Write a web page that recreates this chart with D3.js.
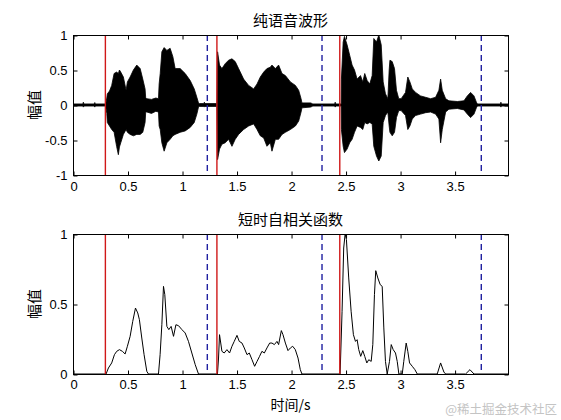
<!DOCTYPE html>
<html>
<head>
<meta charset="utf-8">
<script src="https://cdn.jsdelivr.net/npm/d3@7/dist/d3.min.js"></script>
<style>
  html, body { margin: 0; padding: 0; background: #fff; }
  svg { display: block; }
</style>
</head>
<body>
<script>
// ---------------- data ----------------
const titleTop = "纯语音波形";
const titleBottom = "短时自相关函数";
const yLabel = "幅值";
const xLabel = "时间/s";
const watermark = "@稀土掘金技术社区";

const xTicks = [0, 0.5, 1, 1.5, 2, 2.5, 3, 3.5];
const xTickLabels = ["0", "0.5", "1", "1.5", "2", "2.5", "3", "3.5"];
const yTicksTop = [-1, -0.5, 0, 0.5, 1];
const yTickLabelsTop = ["-1", "-0.5", "0", "0.5", "1"];
const yTicksBottom = [0, 0.5, 1];
const yTickLabelsBottom = ["0", "0.5", "1"];

// speech start (red) and end (blue dashed) markers, seconds
const startMarks = [0.297, 1.32, 2.447];
const endMarks = [1.232, 2.284, 3.745];

// waveform envelope: time, upper, lower
const waveT = [0.000,0.090,0.095,0.100,0.195,0.200,0.205,0.300,0.310,0.315,0.335,0.355,0.377,0.400,0.416,0.426,0.438,0.462,0.487,0.499,0.524,0.554,0.585,0.616,0.640,0.661,0.667,0.677,0.720,0.760,0.784,0.790,0.800,0.815,0.836,0.861,0.891,0.916,0.937,0.983,1.029,1.075,1.112,1.136,1.151,1.160,1.200,1.205,1.210,1.320,1.326,1.344,1.366,1.396,1.427,1.458,1.488,1.519,1.565,1.611,1.657,1.688,1.718,1.749,1.779,1.810,1.825,1.856,1.886,1.917,1.948,1.994,2.040,2.070,2.092,2.100,2.180,2.200,2.400,2.405,2.410,2.460,2.462,2.478,2.490,2.514,2.538,2.560,2.582,2.606,2.637,2.658,2.676,2.698,2.722,2.744,2.759,2.784,2.805,2.827,2.845,2.866,2.888,2.900,2.907,2.928,2.949,2.967,2.988,3.010,3.050,3.071,3.090,3.112,3.142,3.188,3.234,3.280,3.326,3.356,3.372,3.387,3.418,3.448,3.525,3.586,3.617,3.647,3.678,3.700,3.710,3.920,3.925,3.930,3.990];
const waveHi = [0.015,0.015,0.04,0.015,0.015,0.035,0.015,0.015,0.10,0.16,0.20,0.28,0.45,0.47,0.45,0.50,0.47,0.40,0.21,0.33,0.40,0.50,0.57,0.52,0.37,0.23,0.10,0.09,0.08,0.10,0.09,0.30,0.45,0.76,0.82,0.78,0.81,0.69,0.52,0.52,0.45,0.35,0.23,0.11,0.03,0.02,0.02,0.04,0.02,0.02,0.76,0.57,0.52,0.59,0.64,0.66,0.62,0.52,0.37,0.28,0.23,0.30,0.40,0.47,0.52,0.54,0.57,0.52,0.57,0.45,0.42,0.33,0.28,0.21,0.09,0.03,0.03,0.015,0.015,0.04,0.015,0.015,0.37,0.90,0.98,0.86,0.71,0.57,0.50,0.37,0.42,0.33,0.45,0.35,0.30,0.42,0.95,0.90,1.00,0.86,0.33,0.16,0.09,0.50,0.64,0.62,0.52,0.21,0.09,0.09,0.18,0.40,0.33,0.23,0.18,0.13,0.11,0.09,0.11,0.21,0.37,0.21,0.09,0.06,0.05,0.06,0.13,0.18,0.13,0.04,0.015,0.015,0.04,0.015,0.015];
const waveLo = [-0.015,-0.015,-0.03,-0.015,-0.015,-0.03,-0.015,-0.015,-0.12,-0.25,-0.30,-0.35,-0.39,-0.59,-0.71,-0.60,-0.54,-0.42,-0.35,-0.39,-0.42,-0.44,-0.42,-0.42,-0.39,-0.25,-0.10,-0.10,-0.12,-0.09,-0.10,-0.30,-0.35,-0.54,-0.66,-0.54,-0.49,-0.44,-0.42,-0.39,-0.37,-0.32,-0.25,-0.13,-0.03,-0.02,-0.02,-0.03,-0.02,-0.02,-0.78,-0.63,-0.56,-0.54,-0.49,-0.59,-0.49,-0.42,-0.35,-0.30,-0.27,-0.35,-0.44,-0.47,-0.59,-0.54,-0.66,-0.49,-0.49,-0.42,-0.39,-0.35,-0.30,-0.23,-0.10,-0.04,-0.03,-0.015,-0.015,-0.03,-0.015,-0.015,-0.35,-0.59,-0.68,-0.63,-0.54,-0.49,-0.39,-0.30,-0.32,-0.35,-0.25,-0.27,-0.25,-0.27,-0.59,-0.73,-0.80,-0.73,-0.25,-0.15,-0.10,-0.30,-0.39,-0.44,-0.39,-0.18,-0.08,-0.08,-0.15,-0.35,-0.30,-0.20,-0.15,-0.13,-0.11,-0.10,-0.13,-0.20,-0.54,-0.35,-0.10,-0.06,-0.05,-0.07,-0.13,-0.18,-0.13,-0.04,-0.015,-0.015,-0.03,-0.015,-0.015];

// short-time autocorrelation curve: time, value
const acT = [0.000,0.303,0.325,0.355,0.380,0.401,0.426,0.453,0.478,0.499,0.524,0.548,0.573,0.594,0.609,0.631,0.652,0.677,0.692,0.784,0.799,0.815,0.830,0.842,0.861,0.879,0.900,0.922,0.944,0.968,0.999,1.029,1.059,1.090,1.121,1.151,1.325,1.335,1.344,1.366,1.387,1.412,1.436,1.458,1.479,1.504,1.525,1.550,1.571,1.596,1.617,1.642,1.666,1.688,1.711,1.733,1.755,1.779,1.804,1.825,1.847,1.871,1.886,1.911,1.926,1.948,1.972,1.994,2.015,2.039,2.064,2.085,2.100,2.450,2.468,2.483,2.496,2.508,2.529,2.551,2.572,2.591,2.606,2.621,2.639,2.658,2.676,2.695,2.713,2.735,2.750,2.765,2.777,2.796,2.818,2.836,2.851,2.866,2.882,2.903,2.919,2.937,2.958,2.974,2.989,3.020,3.034,3.056,3.071,3.087,3.112,3.136,3.158,3.341,3.372,3.402,3.418,3.601,3.641,3.678,3.990];
const acV = [0,0,0.043,0.079,0.138,0.162,0.174,0.162,0.143,0.198,0.269,0.376,0.471,0.436,0.388,0.257,0.138,0.019,0,0,0.138,0.352,0.626,0.567,0.340,0.317,0.340,0.269,0.352,0.345,0.317,0.293,0.233,0.150,0.067,0,0,0.114,0.281,0.162,0.150,0.174,0.150,0.198,0.233,0.276,0.233,0.221,0.186,0.138,0.150,0.102,0.055,0.090,0.126,0.162,0.150,0.186,0.221,0.221,0.210,0.233,0.210,0.310,0.281,0.221,0.167,0.186,0.198,0.174,0.114,0.031,0,0,0.448,0.900,1.000,0.960,0.686,0.448,0.281,0.233,0.245,0.174,0.126,0.167,0.126,0.079,0.102,0.090,0.210,0.567,0.738,0.686,0.638,0.626,0.329,0.090,0,0.090,0.210,0.174,0.150,0.090,0,0,0.090,0.221,0.162,0.079,0.055,0.031,0,0,0.079,0.014,0,0,0.031,0,0];

const xMax = 3.99;

// ---------------- drawing ----------------
const W = 561, H = 420;
const svg = d3.select("body").append("svg").attr("width", W).attr("height", H)
  .style("background", "#fff");

const numFont = "'Liberation Sans', Arial, sans-serif";
const cjkFont = "'Noto Sans CJK SC', sans-serif";
const redC = "#d01818";
const blueC = "#2020a0";

const left = 73, right = 508;
const panels = [
  { top: 35, bottom: 175, domain: [-1, 1], yTicks: yTicksTop, yLabels: yTickLabelsTop, title: titleTop, xlab: false, pad: 6 },
  { top: 234, bottom: 374, domain: [0, 1], yTicks: yTicksBottom, yLabels: yTickLabelsBottom, title: titleBottom, xlab: true, pad: 5 }
];

const x = d3.scaleLinear().domain([0, xMax]).range([left, right]);

panels.forEach((p, i) => {
  const y = d3.scaleLinear().domain(p.domain).range([p.bottom, p.top]);
  const g = svg.append("g");
  const clipId = "clip" + i;
  svg.append("clipPath").attr("id", clipId).append("rect")
    .attr("x", left).attr("y", p.top).attr("width", right - left).attr("height", p.bottom - p.top);

  const plot = g.append("g").attr("clip-path", `url(#${clipId})`);

  if (i === 0) {
    const pts = waveT.map((t, k) => ({ t, hi: waveHi[k], lo: waveLo[k] }));
    const area = d3.area().x(d => x(d.t)).y0(d => y(d.lo)).y1(d => y(d.hi));
    plot.append("path").datum(pts).attr("d", area)
      .attr("fill", "#000").attr("stroke", "#000").attr("stroke-width", 0.8);
  } else {
    const pts = acT.map((t, k) => ({ t, v: acV[k] }));
    const line = d3.line().x(d => x(d.t)).y(d => y(d.v));
    plot.append("path").datum(pts).attr("d", line)
      .attr("fill", "none").attr("stroke", "#000").attr("stroke-width", 1);
  }

  // markers
  plot.append("g").selectAll("line").data(startMarks).join("line")
    .attr("x1", d => x(d)).attr("x2", d => x(d))
    .attr("y1", p.top).attr("y2", p.bottom)
    .attr("stroke", redC).attr("stroke-width", 1.4);
  plot.append("g").selectAll("line").data(endMarks).join("line")
    .attr("x1", d => x(d)).attr("x2", d => x(d))
    .attr("y1", p.top).attr("y2", p.bottom)
    .attr("stroke", blueC).attr("stroke-width", 1.4).attr("stroke-dasharray", "6,4");

  // axes
  const ax = g.append("g").attr("transform", `translate(0.5,${p.bottom + 0.5})`)
    .call(d3.axisBottom(x).tickValues(xTicks).tickFormat((d, k) => xTickLabels[k]).tickSizeInner(-4).tickSizeOuter(0).tickPadding(p.pad));
  ax.select(".domain").remove();
  ax.selectAll("text").attr("font-family", numFont).attr("font-size", 13).attr("fill", "#000");

  const axT = g.append("g").attr("transform", `translate(0.5,${p.top + 0.5})`)
    .call(d3.axisTop(x).tickValues(xTicks).tickFormat("").tickSizeInner(-4).tickSizeOuter(0));
  axT.select(".domain").remove();

  const ay = g.append("g").attr("transform", `translate(${left + 0.5},0.5)`)
    .call(d3.axisLeft(y).tickValues(p.yTicks).tickFormat((d, k) => p.yLabels[k]).tickSizeInner(-4).tickSizeOuter(0).tickPadding(6));
  ay.select(".domain").remove();
  ay.selectAll("text").attr("font-family", numFont).attr("font-size", 13).attr("fill", "#000");

  const ayR = g.append("g").attr("transform", `translate(${right + 0.5},0.5)`)
    .call(d3.axisRight(y).tickValues(p.yTicks).tickFormat("").tickSizeInner(-4).tickSizeOuter(0));
  ayR.select(".domain").remove();

  g.selectAll(".tick line").attr("stroke", "#000");

  g.append("rect").attr("x", left + 0.5).attr("y", p.top + 0.5)
    .attr("width", right - left).attr("height", p.bottom - p.top)
    .attr("fill", "none").attr("stroke", "#000").attr("stroke-width", 1);

  // title
  svg.append("text").attr("x", (left + right) / 2).attr("y", p.top - 9)
    .attr("text-anchor", "middle").attr("font-family", cjkFont).attr("font-size", 15)
    .attr("fill", "#000").text(p.title);

  // y label
  const cy = (p.top + p.bottom) / 2;
  svg.append("text").attr("transform", `translate(40,${cy}) rotate(-90)`)
    .attr("text-anchor", "middle").attr("font-family", cjkFont).attr("font-size", 15)
    .attr("fill", "#000").text(yLabel);

  if (p.xlab) {
    svg.append("text").attr("x", (left + right) / 2).attr("y", p.bottom + 36)
      .attr("text-anchor", "middle").attr("font-family", cjkFont).attr("font-size", 14)
      .attr("fill", "#000").text(xLabel);
  }
});

svg.append("text").attr("x", 557).attr("y", 414).attr("text-anchor", "end")
  .attr("font-family", cjkFont).attr("font-size", 12.5).attr("fill", "#c4c4c4").text(watermark);
</script>
</body>
</html>
